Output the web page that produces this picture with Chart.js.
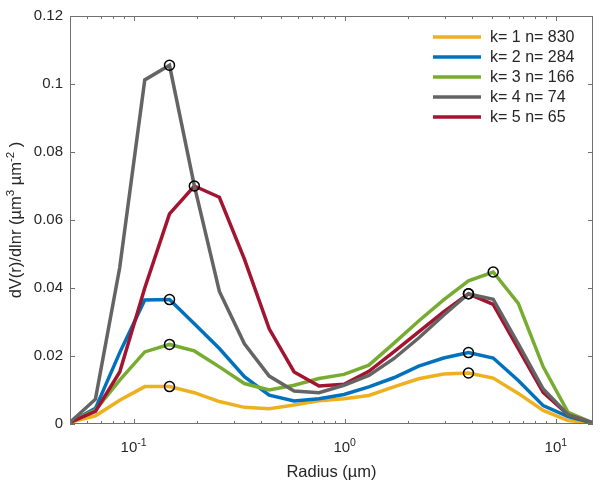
<!DOCTYPE html>
<html>
<head>
<meta charset="utf-8">
<script src="https://cdn.jsdelivr.net/npm/chart.js@4.4.0/dist/chart.umd.min.js"></script>
<style>
  html, body { margin: 0; padding: 0; background: #fff; }
  #wrap { width: 600px; height: 486px; }
</style>
</head>
<body>
<div id="wrap"><canvas id="myChart" width="600" height="486"></canvas></div>
<script>
// ---------- Datos ----------

const radios = [0.050, 0.066, 0.086, 0.113, 0.148, 0.194, 0.255, 0.335, 0.439, 0.576, 0.756,
                0.992, 1.302, 1.708, 2.241, 2.940, 3.857, 5.051, 6.641, 8.713, 11.432, 15.000];

const k1 = [0.0005, 0.0024, 0.0070, 0.0110, 0.0110, 0.0092, 0.0066, 0.0049, 0.0045, 0.0056, 0.0068,
            0.0074, 0.0084, 0.0109, 0.0133, 0.0147, 0.0150, 0.0135, 0.0090, 0.0040, 0.0010, 0.0003];
const k2 = [0.0005, 0.0046, 0.0210, 0.0365, 0.0366, 0.0295, 0.0222, 0.0139, 0.0085, 0.0068, 0.0074,
            0.0087, 0.0109, 0.0136, 0.0170, 0.0194, 0.0210, 0.0194, 0.0128, 0.0054, 0.0022, 0.0003];
const k3 = [0.0005, 0.0041, 0.0129, 0.0212, 0.0234, 0.0215, 0.0168, 0.0119, 0.0100, 0.0114, 0.0134,
            0.0146, 0.0173, 0.0237, 0.0303, 0.0365, 0.0421, 0.0447, 0.0355, 0.0168, 0.0034, 0.0003];
const k4 = [0.0005, 0.0073, 0.0460, 0.1012, 0.1055, 0.0701, 0.0390, 0.0236, 0.0141, 0.0097, 0.0092,
            0.0114, 0.0143, 0.0192, 0.0253, 0.0320, 0.0383, 0.0367, 0.0236, 0.0103, 0.0027, 0.0003];
const k5 = [0.0005, 0.0037, 0.0153, 0.0400, 0.0618, 0.0700, 0.0667, 0.0485, 0.0280, 0.0153, 0.0112,
            0.0117, 0.0155, 0.0212, 0.0271, 0.0330, 0.0383, 0.0352, 0.0222, 0.0093, 0.0027, 0.0003];

const etiquetas = ['k= 1 n= 830', 'k= 2 n= 284', 'k= 3 n= 166', 'k= 4 n= 74', 'k= 5 n= 65'];
const colores = ['#EDB120', '#0072BD', '#77AC30', '#646464', '#A2142F'];

// indices de los maximos (modo fino, modo grueso)
const picos = [[4, 16], [4, 16], [4, 17], [4, 16], [5, 16]];

const yTicks = [0, 0.02, 0.04, 0.06, 0.08, 0.1, 0.12];
const yTickLabels = ['0', '0.02', '0.04', '0.06', '0.08', '0.1', '0.12'];
const xTicksMayores = [0.1, 1, 10];
const xTickExp = ['-1', '0', '1'];

const series = [k1, k2, k3, k4, k5];
const orden = [4, 3, 2, 0, 1];

const FUENTE = 'Liberation Sans, Arial, sans-serif';
const TEXTO = '#262626';
const EJE = '#707070';

// ---------- Helpers ----------

function linea(ctx, x1, y1, x2, y2) {
  ctx.beginPath();
  ctx.moveTo(x1, y1);
  ctx.lineTo(x2, y2);
  ctx.stroke();
}

// partes: [[texto, esSuper], ...]
function anchoSup(ctx, partes, tam) {
  let w = 0;
  partes.forEach(([t, sup]) => {
    ctx.font = (sup ? tam * 0.7 : tam) + 'px ' + FUENTE;
    w += ctx.measureText(t).width;
  });
  return w;
}

function textoSup(ctx, partes, x, y, tam) {
  partes.forEach(([t, sup]) => {
    ctx.font = (sup ? tam * 0.7 : tam) + 'px ' + FUENTE;
    ctx.fillText(t, x, sup ? y - tam * 0.42 : y);
    x += ctx.measureText(t).width;
  });
}

// ---------- Plugin ejes estilo MATLAB ----------

const ejesMatlab = {
  id: 'ejesMatlab',
  afterDatasetsDraw(chart) {
    const { ctx, chartArea: a, scales: { x, y } } = chart;
    ctx.save();
    ctx.strokeStyle = EJE;
    ctx.lineWidth = 1;
    ctx.strokeRect(a.left + 0.5, a.top + 0.5, a.right - a.left - 1, a.bottom - a.top - 1);

    // ticks y (izquierda y derecha, hacia adentro)
    yTicks.forEach(v => {
      const py = Math.round(y.getPixelForValue(v)) + 0.5;
      linea(ctx, a.left, py, a.left + 5, py);
      linea(ctx, a.right - 5, py, a.right, py);
    });

    // ticks x mayores y menores
    for (let d = -2; d <= 1; d++) {
      for (let m = 1; m <= 9; m++) {
        const v = m * Math.pow(10, d);
        if (v < x.min || v > x.max) continue;
        const px = Math.round(x.getPixelForValue(v)) + 0.5;
        const largo = m === 1 ? 5 : 3;
        linea(ctx, px, a.bottom, px, a.bottom - largo);
        linea(ctx, px, a.top, px, a.top + largo);
      }
    }

    // etiquetas x con exponente
    ctx.fillStyle = TEXTO;
    ctx.textBaseline = 'alphabetic';
    ctx.textAlign = 'left';
    xTicksMayores.forEach((v, i) => {
      const partes = [['10', false], [xTickExp[i], true]];
      const w = anchoSup(ctx, partes, 15);
      textoSup(ctx, partes, x.getPixelForValue(v) - w / 2, 452, 15);
    });

    // titulo eje x
    ctx.font = '16.5px ' + FUENTE;
    ctx.textAlign = 'center';
    ctx.fillText('Radius (µm)', (a.left + a.right) / 2, 477);

    // titulo eje y
    ctx.save();
    ctx.translate(21, (a.top + a.bottom) / 2);
    ctx.rotate(-Math.PI / 2);
    ctx.textAlign = 'left';
    const partesY = [['dV(r)/dlnr (µm', false], ['3', true], [' µm', false], ['-2', true], [' )', false]];
    const wy = anchoSup(ctx, partesY, 16.5);
    textoSup(ctx, partesY, -wy / 2, 0, 16.5);
    ctx.restore();

    // leyenda
    ctx.textBaseline = 'middle';
    ctx.textAlign = 'left';
    ctx.font = '16px ' + FUENTE;
    etiquetas.forEach((e, i) => {
      const py = 37 + i * 20;
      ctx.strokeStyle = colores[i];
      ctx.lineWidth = 3.5;
      linea(ctx, 433, py, 481, py);
      ctx.fillStyle = TEXTO;
      ctx.fillText(e, 490, py + 1);
    });

    ctx.restore();
  }
};

// ---------- Grafica ----------

const datasets = series.map((s, i) => ({
  label: etiquetas[i],
  data: s.map((v, j) => ({ x: radios[j], y: v })),
  borderColor: colores[i],
  backgroundColor: colores[i],
  borderWidth: 3.5,
  pointRadius: 0,
  tension: 0,
  order: orden[i]
}));

datasets.push({
  label: 'picos',
  data: picos.flatMap((p, i) => p.map(j => ({ x: radios[j], y: series[i][j] }))),
  showLine: false,
  pointRadius: 5,
  pointBorderColor: '#000',
  pointBackgroundColor: 'rgba(0,0,0,0)',
  pointBorderWidth: 1.5,
  order: -1
});

const grafica = new Chart(document.getElementById('myChart').getContext('2d'), {
  type: 'line',
  data: { datasets },
  options: {
    responsive: false,
    animation: false,
    layout: { padding: { top: 13, right: 7, left: 0, bottom: 0 } },
    plugins: {
      legend: { display: false },
      tooltip: { enabled: false }
    },
    scales: {
      x: {
        type: 'logarithmic',
        min: 0.05,
        max: 15,
        grid: { display: false, drawTicks: false },
        border: { display: false },
        ticks: { display: false },
        afterFit: s => { s.height = 62; }
      },
      y: {
        min: 0,
        max: 0.12,
        afterBuildTicks: s => { s.ticks = yTicks.map(v => ({ value: v })); },
        ticks: {
          callback: (v, i) => yTickLabels[i],
          font: { family: FUENTE, size: 15 },
          color: TEXTO,
          padding: 7
        },
        grid: { display: false, drawTicks: false },
        border: { display: false },
        afterFit: s => { s.width = 70; }
      }
    }
  },
  plugins: [ejesMatlab]
});
</script>
</body>
</html>
